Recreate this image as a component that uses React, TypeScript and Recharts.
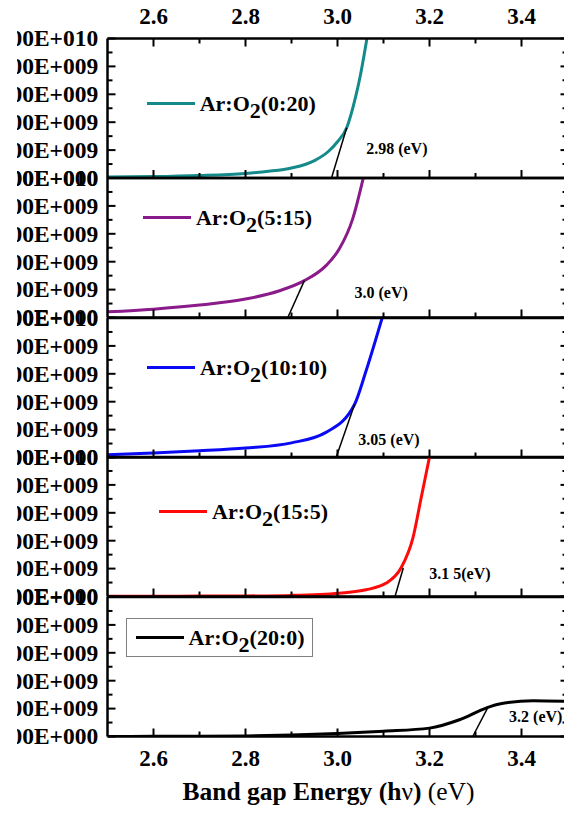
import React from 'react';
import { LineChart, Line, XAxis, YAxis, Legend, ReferenceDot } from 'recharts';

const FONT = '"Liberation Serif", "Times New Roman", serif';

// ---------- data ----------
const energyTicks = [2.6, 2.7, 2.8, 2.9, 3.0, 3.1, 3.2, 3.3, 3.4];
const intensityTicks = [0, 1e9, 2e9, 3e9, 4e9, 5e9, 6e9, 7e9, 8e9, 9e9, 1e10];

const sampleNames = ['Ar:O2(0:20)', 'Ar:O2(5:15)', 'Ar:O2(10:10)', 'Ar:O2(15:5)', 'Ar:O2(20:0)'];
const ratios = ['0:20', '5:15', '10:10', '15:5', '20:0'];
const gapLabels = ['2.98 (eV)', '3.0 (eV)', '3.05 (eV)', '3.1 5(eV)', '3.2 (eV)'];

// curves: energy (eV) and intensity (x1e9)
const e0 = [2.5, 2.6, 2.7, 2.8, 2.85, 2.9, 2.95, 2.98, 3.0, 3.02, 3.04, 3.05, 3.064];
const v0 = [0.07, 0.1, 0.18, 0.33, 0.48, 0.72, 1.25, 1.9, 2.6, 3.6, 5.9, 7.4, 10];
const e1 = [2.5, 2.6, 2.7, 2.8, 2.874, 2.928, 2.975, 3.004, 3.033, 3.056];
const v1 = [0.41, 0.6, 0.89, 1.32, 1.92, 2.64, 3.72, 4.92, 7.07, 10];
const e2 = [2.5, 2.6, 2.7, 2.8, 2.9, 2.975, 3.037, 3.062, 3.097];
const v2 = [0.2, 0.33, 0.48, 0.68, 1.05, 1.8, 3.8, 6.2, 10];
const e3 = [2.5, 2.6, 2.7, 2.8, 2.9, 3.004, 3.062, 3.106, 3.138, 3.164, 3.182, 3.2];
const v3 = [0.02, 0.02, 0.03, 0.04, 0.08, 0.24, 0.48, 0.96, 2.04, 4.2, 7.1, 10];
const e4 = [2.5, 2.6, 2.7, 2.8, 2.9, 3.0, 3.1, 3.2, 3.265, 3.323, 3.352, 3.425, 3.5];
const v4 = [0.0, 0.01, 0.02, 0.04, 0.1, 0.22, 0.38, 0.6, 1.2, 2.04, 2.33, 2.57, 2.52];

// tangent (band-gap extrapolation) lines
const tangentE = [[2.987, 3.02], [2.892, 2.928], [2.997, 3.037], [3.125, 3.143], [3.294, 3.327]];
const tangentV = [[0, 3.6], [0, 2.64], [0, 3.8], [0, 2.04], [0, 2.09]];

// annotation anchor points (energy, intensity x1e9)
const gapLabelE = [3.129, 3.095, 3.112, 3.266, 3.431];
const gapLabelV = [2.14, 1.78, 1.33, 1.68, 1.44];

const energies = [e0, e1, e2, e3, e4];
const values = [v0, v1, v2, v3, v4];

// ---------- styles / layout ----------
const colors = ['#148a8a', '#8b1a8b', '#0a0af5', '#ff0a0a', '#000000'];
const panelTops = [38.5, 178, 317.5, 457, 596.5];
const panelBottom = 736;
const CROP_LEFT = 16.7;
const legendPos = [
  { left: 146.7, lineY: 103 },
  { left: 143, lineY: 217 },
  { left: 147, lineY: 367 },
  { left: 159, lineY: 511 },
  { left: 126, boxTop: 618 },
];

const toPoints = (xs: number[], ys: number[]) => xs.map((x, i) => ({ x, y: ys[i] * 1e9 }));

const fmt = (v: number) => {
  if (v === 0) return '0.00E+000';
  const e = Math.floor(Math.log10(v) + 1e-9);
  const m = v / Math.pow(10, e);
  return m.toFixed(2) + 'E+' + String(e).padStart(3, '0');
};

const LeftTick = (p: any) => {
  const x = Number(p.x);
  const y = Number(p.y);
  const v = Number(p.payload.value);
  const major = Math.round(v / 1e9) % 2 === 0;
  return (
    <g>
      <line x1={x} x2={x + (major ? 8 : 5)} y1={y} y2={y} stroke="#000" strokeWidth={2} />
      {major && (
        <text x={x - 9.3} y={y + 7.8} textAnchor="end" fontSize={23.5} fontWeight="bold" fontFamily={FONT} fill="#000">
          {fmt(v)}
        </text>
      )}
    </g>
  );
};

const RightTick = (p: any) => {
  const x = Number(p.x);
  const y = Number(p.y);
  const major = Math.round(Number(p.payload.value) / 1e9) % 2 === 0;
  return <line x1={x} x2={x - (major ? 7 : 5)} y1={y} y2={y} stroke="#000" strokeWidth={2} />;
};

const makeBottomTick = (showLabel: boolean) => (p: any) => {
  const x = Number(p.x);
  const y = Number(p.y);
  const v = Number(p.payload.value);
  const major = Math.round(v * 10) % 2 === 0;
  return (
    <g>
      <line x1={x} x2={x} y1={y} y2={y - (major ? 8 : 5)} stroke="#000" strokeWidth={2} />
      {showLabel && major && (
        <text x={x} y={y + 29.6} textAnchor="middle" fontSize={23} fontWeight="bold" fontFamily={FONT} fill="#000">
          {v.toFixed(1)}
        </text>
      )}
    </g>
  );
};

const TopTick = (p: any) => {
  const x = Number(p.x);
  const y = Number(p.y);
  const v = Number(p.payload.value);
  const major = Math.round(v * 10) % 2 === 0;
  return (
    <g>
      <line x1={x} x2={x} y1={y} y2={y + (major ? 8 : 5)} stroke="#000" strokeWidth={2} />
      {major && (
        <text x={x} y={y - 14.5} textAnchor="middle" fontSize={23} fontWeight="bold" fontFamily={FONT} fill="#000">
          {v.toFixed(1)}
        </text>
      )}
    </g>
  );
};

const TitleLabel = (p: any) => {
  const vb = p.viewBox || {};
  return (
    <text x={Number(vb.x) + Number(vb.width) / 2 - 9} y={Number(vb.y) + 63} textAnchor="middle" fontSize={25.5} fontFamily={FONT} fill="#000">
      <tspan fontWeight="bold">Band gap Energy (h</tspan>
      <tspan>ν</tspan>
      <tspan fontWeight="bold">)</tspan>
      <tspan> (eV)</tspan>
    </text>
  );
};

const LegendItem = ({ color, ratio, boxed }: { color: string; ratio: string; boxed: boolean }) => (
  <div
    style={{
      display: 'flex',
      alignItems: 'center',
      fontFamily: FONT,
      fontWeight: 'bold',
      fontSize: 22,
      color: '#000',
      whiteSpace: 'nowrap',
      lineHeight: 'normal',
      ...(boxed
        ? { border: '1.5px solid #808080', height: 39, width: 187, boxSizing: 'border-box' as const, paddingLeft: 8.5 }
        : {}),
    }}
  >
    <span style={{ display: 'inline-block', width: 48, height: 3, background: color, marginRight: 5 }} />
    <span>
      Ar:O<span style={{ position: 'relative', top: 7 }}>2</span>({ratio})
    </span>
  </div>
);

function Panel({ i }: { i: number }) {
  const first = i === 0;
  const last = i === 4;
  const plotTop = panelTops[i];
  const plotBottom = i < 4 ? panelTops[i + 1] : panelBottom;
  // axes take 1px each (top/bottom) so that the library draws them
  const mt = (first ? plotTop : 15) - 1;
  const mb = (last ? 815 - plotBottom : 15) - 1;
  const chartTop = plotTop - mt - 1;
  const height = mt + 1 + (plotBottom - plotTop) + 1 + mb;
  const lp = legendPos[i];
  const legendTop = lp.boxTop !== undefined ? lp.boxTop - chartTop : (lp.lineY as number) - 12.2 - chartTop;

  return (
    <div style={{ position: 'absolute', left: 0, top: chartTop }}>
      <LineChart width={572} height={height} margin={{ top: mt, right: 3.5, bottom: mb, left: 0 }}>
        <XAxis
          xAxisId="b"
          type="number"
          dataKey="x"
          domain={[2.5, 3.5]}
          allowDataOverflow
          orientation="bottom"
          ticks={energyTicks}
          interval={0}
          height={1}
          tickSize={0}
          tickMargin={0}
          tickLine={false}
          stroke="#000"
          strokeWidth={2.5}
          axisLine={{ stroke: '#000', strokeWidth: 2.5 }}
          tick={makeBottomTick(last)}
          label={last ? { value: 'Band gap Energy (hν) (eV)', position: 'bottom', content: TitleLabel } : undefined}
        />
        <XAxis
          xAxisId="t"
          type="number"
          dataKey="x"
          domain={[2.5, 3.5]}
          allowDataOverflow
          orientation="top"
          ticks={energyTicks}
          interval={0}
          height={1}
          tickSize={0}
          tickMargin={0}
          tickLine={false}
          stroke="#000"
          strokeWidth={2.5}
          axisLine={{ stroke: '#000', strokeWidth: 2.5 }}
          tick={first ? TopTick : false}
        />
        <YAxis
          yAxisId="l"
          type="number"
          domain={[0, 1e10]}
          allowDataOverflow
          ticks={intensityTicks}
          interval={0}
          width={107.5}
          tickSize={0}
          tickMargin={0}
          tickLine={false}
          stroke="#000"
          strokeWidth={2.5}
          axisLine={{ stroke: '#000', strokeWidth: 2.5 }}
          tick={LeftTick}
        />
        <YAxis
          yAxisId="r"
          orientation="right"
          type="number"
          domain={[0, 1e10]}
          allowDataOverflow
          ticks={intensityTicks}
          interval={0}
          width={1}
          tickSize={0}
          tickMargin={0}
          tickLine={false}
          stroke="#000"
          strokeWidth={2.5}
          axisLine={{ stroke: '#000', strokeWidth: 2.5 }}
          tick={RightTick}
        />
        <Line
          xAxisId="b"
          yAxisId="l"
          data={toPoints(energies[i], values[i])}
          dataKey="y"
          name={sampleNames[i]}
          type="monotone"
          stroke={colors[i]}
          strokeWidth={3}
          dot={false}
          isAnimationActive={false}
        />
        <Line
          xAxisId="b"
          yAxisId="l"
          data={toPoints(tangentE[i], tangentV[i])}
          dataKey="y"
          name="tangent"
          type="linear"
          stroke="#000"
          strokeWidth={1.5}
          dot={false}
          legendType="none"
          isAnimationActive={false}
        />
        <ReferenceDot
          xAxisId="b"
          yAxisId="l"
          x={gapLabelE[i]}
          y={gapLabelV[i] * 1e9}
          r={0}
          fill="none"
          stroke="none"
          label={{
            value: gapLabels[i],
            position: 'center',
            fill: '#000',
            fontSize: 16,
            fontWeight: 'bold',
            fontFamily: FONT,
          }}
        />
        <Legend
          layout="horizontal"
          verticalAlign="middle"
          align="center"
          wrapperStyle={{ left: lp.left, top: legendTop, width: 'auto', height: 'auto' }}
          content={() => <LegendItem color={colors[i]} ratio={ratios[i]} boxed={last} />}
        />
      </LineChart>
    </div>
  );
}

export default function App() {
  return (
    <div
      style={{
        position: 'relative',
        width: 572,
        height: 815,
        margin: '-8px 0 0 -8px',
        overflow: 'hidden',
        background: '#fff',
      }}
    >
      {/* the figure is cropped on its left side, as in the source picture */}
      <div style={{ position: 'absolute', left: CROP_LEFT, top: 0, width: 572 - CROP_LEFT, height: 815, overflow: 'hidden' }}>
        <div style={{ position: 'relative', left: -CROP_LEFT, width: 572, height: 815 }}>
          {[0, 1, 2, 3, 4].map((i) => (
            <Panel key={i} i={i} />
          ))}
        </div>
      </div>
    </div>
  );
}
